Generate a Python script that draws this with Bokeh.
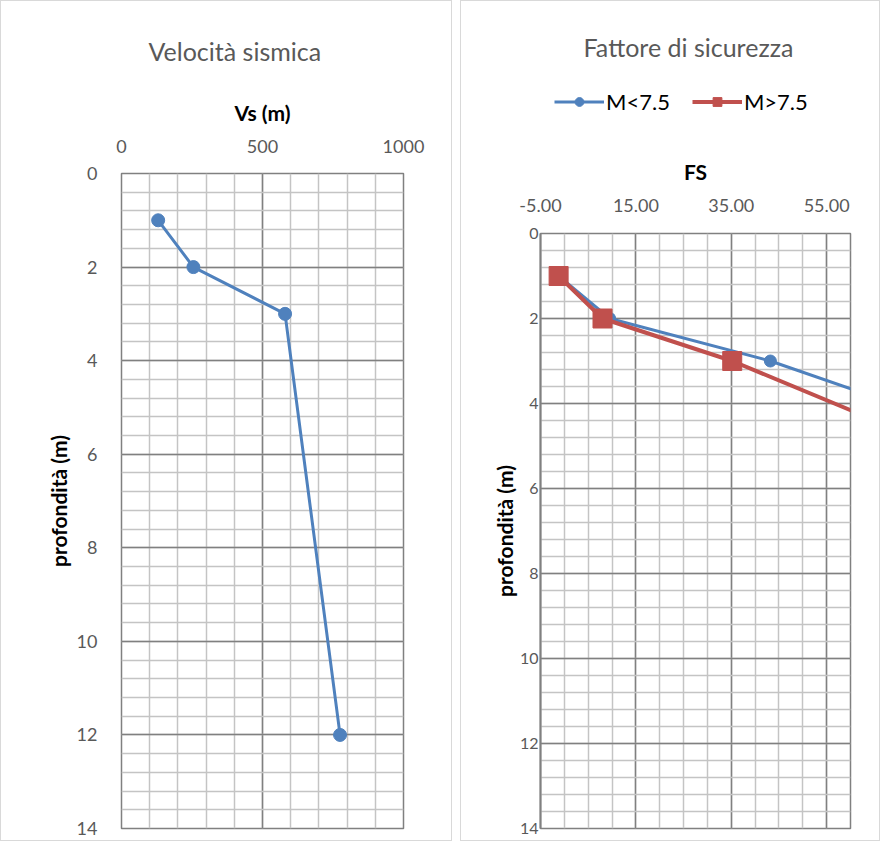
from bokeh.plotting import figure
from bokeh.layouts import row, column
from bokeh.models import (Range1d, SingleIntervalTicker, FixedTicker, Legend,
                          LegendItem, PrintfTickFormatter)
from bokeh.embed import file_html
from bokeh.resources import INLINE

# ---- data ----
vs_depth = [1, 2, 3, 12]
vs_values = [130, 255, 580, 775]
fs_depth = [1, 2, 3, 12]
fs_low = [-1.2, 9.5, 43.2, 275]     # M<7.5
fs_high = [-1.2, 8.0, 35.2, 228]    # M>7.5
vs_ticks = [0, 500, 1000]
fs_ticks = [-5, 15, 35, 55]
depth_ticks = [0, 2, 4, 6, 8, 10, 12, 14]

FONT = "Lato"
TXT = "#595959"
MINOR = "#C4C4C4"
MAJOR = "#808080"
BLUE = "#4F81BD"
RED = "#C0504D"


def style_title(p):
    p.title.text_font = FONT
    p.title.text_font_size = "25px"
    p.title.text_font_style = "normal"
    p.title.text_color = TXT
    p.title.align = "left"


def style_common(p, tick_size_x, tick_size_y):
    p.background_fill_color = "white"
    p.border_fill_color = "white"
    p.outline_line_color = MAJOR
    p.outline_line_width = 1.5
    for ax in (p.xaxis, p.yaxis):
        ax.major_tick_line_color = None
        ax.minor_tick_line_color = None
        ax.major_label_text_font = FONT
        ax.major_label_text_color = TXT
        ax.axis_label_text_font = FONT
        ax.axis_label_text_font_style = "bold"
        ax.axis_label_text_color = "#000000"
    p.xaxis.major_label_text_font_size = tick_size_x
    p.yaxis.major_label_text_font_size = tick_size_y
    p.xaxis.axis_label_text_font_size = "21px"
    p.yaxis.axis_label_text_font_size = "21px"
    for g in (p.xgrid, p.ygrid):
        g.grid_line_color = MAJOR
        g.grid_line_width = 1.5
        g.minor_grid_line_color = MINOR
        g.minor_grid_line_width = 1.5


# ---- left chart ----
p1 = figure(frame_width=282, frame_height=655, x_range=Range1d(0, 1000), y_range=Range1d(14, 0),
            x_axis_location="above", output_backend="svg", toolbar_location=None,
            min_border_left=120, min_border_right=48, min_border_top=172,
            min_border_bottom=12, title="Velocità sismica")
style_common(p1, "18px", "18px")
style_title(p1)
p1.xaxis.ticker = FixedTicker(ticks=vs_ticks)
p1.xgrid.ticker = SingleIntervalTicker(interval=500, num_minor_ticks=5)
p1.yaxis.ticker = FixedTicker(ticks=depth_ticks)
p1.ygrid.ticker = SingleIntervalTicker(interval=2, num_minor_ticks=5)
p1.xaxis.axis_label = "Vs (m)"
p1.yaxis.axis_label = "profondità (m)"
p1.xaxis.axis_line_color = None
p1.yaxis.axis_line_color = None
p1.xaxis.major_label_standoff = 15
p1.xaxis.axis_label_standoff = 12
p1.yaxis.major_label_standoff = 18
p1.yaxis.axis_label_standoff = 3
p1.title.offset = 27
p1.title.standoff = 61

p1.line(vs_values, vs_depth, line_color=BLUE, line_width=3)
p1.scatter(vs_values, vs_depth, marker="circle", size=13, fill_color=BLUE, line_color=BLUE)

# ---- right chart: header with title and legend ----
hdr = figure(frame_width=310, frame_height=62, x_range=Range1d(0, 1), y_range=Range1d(-100, -99),
             x_axis_location=None, y_axis_location=None, output_backend="svg",
             toolbar_location=None, min_border_left=79, min_border_right=29,
             min_border_top=69, min_border_bottom=0, title="Fattore di sicurezza")
style_title(hdr)
hdr.title.offset = 43
hdr.title.standoff = 17
hdr.grid.visible = False
hdr.outline_line_color = None
hdr.background_fill_color = "white"
hdr.border_fill_color = "white"
h1 = hdr.line(fs_low, fs_depth, line_color=BLUE, line_width=3)
hm1 = hdr.scatter(fs_low, fs_depth, marker="circle", size=11, fill_color=BLUE, line_color=BLUE)
h2 = hdr.line(fs_high, fs_depth, line_color=RED, line_width=4)
hm2 = hdr.scatter(fs_high, fs_depth, marker="square", size=17, fill_color=RED, line_color=RED)
legend = Legend(items=[LegendItem(label="M<7.5", renderers=[h1, hm1]),
                       LegendItem(label="M>7.5", renderers=[h2, hm2])],
                orientation="horizontal", location="center_left",
                label_text_font=FONT, label_text_font_size="22px", label_text_color="#000000",
                glyph_width=50, glyph_height=22, label_height=22, spacing=22, label_standoff=2,
                padding=0, margin=14, border_line_color=None, background_fill_alpha=0)
hdr.add_layout(legend)

# ---- right chart ----
p2 = figure(frame_width=310, frame_height=595, x_range=Range1d(-5, 60), y_range=Range1d(14, 0),
            x_axis_location="above", output_backend="svg", toolbar_location=None,
            min_border_left=79, min_border_right=29, min_border_top=101,
            min_border_bottom=12)
style_common(p2, "18px", "16px")
p2.xaxis.ticker = FixedTicker(ticks=fs_ticks)
p2.xgrid.ticker = FixedTicker(ticks=fs_ticks, minor_ticks=list(range(-5, 61, 5)))
p2.xaxis.formatter = PrintfTickFormatter(format="%.2f")
p2.yaxis.ticker = FixedTicker(ticks=depth_ticks)
p2.ygrid.ticker = SingleIntervalTicker(interval=2, num_minor_ticks=5)
p2.xaxis.axis_label = "FS"
p2.yaxis.axis_label = "profondità (m)"
p2.xaxis.axis_line_color = None
p2.yaxis.axis_line_color = MAJOR
p2.yaxis.axis_line_width = 2
p2.xaxis.major_label_standoff = 16
p2.xaxis.axis_label_standoff = 12
p2.yaxis.major_label_standoff = -4
p2.yaxis.axis_label_standoff = 0

p2.line(fs_low, fs_depth, line_color=BLUE, line_width=3)
p2.scatter(fs_low, fs_depth, marker="circle", size=12, fill_color=BLUE, line_color=BLUE)
p2.line(fs_high, fs_depth, line_color=RED, line_width=4)
p2.scatter(fs_high, fs_depth, marker="square", size=19, fill_color=RED, line_color=RED)

BORDER = {"border": "1px solid #D9D9D9"}
left_panel = column(p1, styles=BORDER)
right_panel = column(column(hdr), column(p2), styles=BORDER)
layout = row(left_panel, right_panel, spacing=8)
open("out.html", "w").write(file_html(layout, INLINE))
